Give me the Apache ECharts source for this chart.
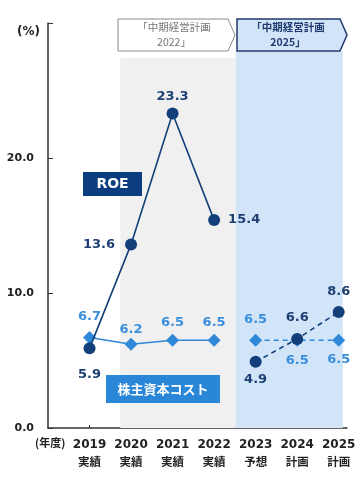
<!DOCTYPE html>
<html><head><meta charset="utf-8">
<script src="https://cdn.jsdelivr.net/npm/echarts@6/dist/echarts.min.js"></script>
<style>html,body{margin:0;padding:0;background:#fff}#c{width:363px;height:484px}</style>
</head><body><div id="c"></div>
<script>
const years = ['2019','2020','2021','2022','2023','2024','2025'];
const status = ['実績','実績','実績','実績','予想','計画','計画'];
const roeActual = [5.9, 13.6, 23.3, 15.4, null, null, null];
const roePlan = [null, null, null, null, 4.9, 6.6, 8.6];
const costActual = [6.7, 6.2, 6.5, 6.5, null, null, null];
const costPlan = [null, null, null, null, 6.5, 6.5, 6.5];
const yTickValues = [0, 10, 20, 30];
const yLabelValues = [0, 10, 20];

const roeLabelPos = ['bottom','left','top','right','bottom','top','top'];
const roeLabelDist = [14, 10, 4, 8, 5, 9, 8];
const costLabelPos = ['top','top','top','top','top','bottom','bottom'];
const costLabelDist = [8, 2, 5, 5, 8, 7, 6];

const NAVY = '#123f7a';
const LBLUE = '#2f88d8';
const FONT = '"DejaVu Sans","Noto Sans CJK JP",sans-serif';
const CJK = '"Noto Sans CJK JP","DejaVu Sans",sans-serif';

function mk(arr, pos, dist) {
  const out = [];
  arr.forEach((v, i) => {
    if (v == null) return;
    out.push({ value: [i, v], label: { position: pos[i], distance: dist[i] } });
  });
  return out;
}

const roeLabel = { show: true, fontFamily: FONT, fontSize: 13, fontWeight: 'bold', color: '#1d3f72', formatter: p => p.value[1].toFixed(1) };
const costLabel = { show: true, fontFamily: FONT, fontSize: 13, fontWeight: 'bold', color: '#3a8fdc', formatter: p => p.value[1].toFixed(1) };

const chart = echarts.init(document.getElementById('c'));
chart.setOption({
  animation: false,
  grid: { left: 48, right: 16, top: 23, bottom: 56 },
  xAxis: {
    type: 'value', min: -1, max: 6.2, interval: 1,
    axisLine: { show: true, onZero: false, lineStyle: { color: '#333', width: 1.5 } },
    axisTick: { show: true, inside: true, length: 3, lineStyle: { color: '#333' }, customValues: [0,1,2,3,4,5,6] },
    splitLine: { show: false },
    axisLabel: {
      customValues: [0,1,2,3,4,5,6],
      margin: 8,
      formatter: v => '{y|' + years[v] + '}\n{s|' + status[v] + '}',
      rich: {
        y: { fontFamily: FONT, fontSize: 12, fontWeight: 'bold', color: '#222', lineHeight: 17 },
        s: { fontFamily: CJK, fontSize: 11.5, fontWeight: 'bold', color: '#222', lineHeight: 17 }
      }
    }
  },
  yAxis: {
    type: 'value', min: 0, max: 30, interval: 10,
    axisLine: { show: true, onZero: false, lineStyle: { color: '#333', width: 1.5 } },
    axisTick: { show: true, inside: true, length: 5, lineStyle: { color: '#333' }, customValues: yTickValues },
    splitLine: { show: false },
    axisLabel: {
      customValues: yLabelValues,
      margin: 14,
      formatter: v => v.toFixed(1),
      fontFamily: FONT, fontSize: 11, fontWeight: 'bold', color: '#222'
    }
  },
  series: [
    {
      type: 'line', name: 'bg', data: [], silent: true,
      markArea: {
        silent: true,
        data: [
          [{ xAxis: 0.74, yAxis: 0, itemStyle: { color: '#f0f0f0' } }, { xAxis: 3.52, yAxis: 27.4 }],
          [{ xAxis: 3.52, yAxis: 0, itemStyle: { color: '#d2e5f8' } }, { xAxis: 6.1, yAxis: 27.9 }]
        ]
      }
    },
    {
      type: 'line', name: 'cost', data: mk(costActual, costLabelPos, costLabelDist),
      symbol: 'diamond', symbolSize: 13, lineStyle: { color: LBLUE, width: 1.6 },
      itemStyle: { color: LBLUE }, label: costLabel, z: 3
    },
    {
      type: 'line', name: 'costPlan', data: mk(costPlan, costLabelPos, costLabelDist),
      symbol: 'diamond', symbolSize: 13, lineStyle: { color: LBLUE, width: 1.6, type: [5, 4] },
      itemStyle: { color: LBLUE }, label: costLabel, z: 3
    },
    {
      type: 'line', name: 'roe', data: mk(roeActual, roeLabelPos, roeLabelDist),
      symbol: 'circle', symbolSize: 12, lineStyle: { color: NAVY, width: 1.6 },
      itemStyle: { color: NAVY }, label: roeLabel, z: 4
    },
    {
      type: 'line', name: 'roePlan', data: mk(roePlan, roeLabelPos, roeLabelDist),
      symbol: 'circle', symbolSize: 12, lineStyle: { color: NAVY, width: 1.6, type: [5, 4] },
      itemStyle: { color: NAVY }, label: roeLabel, z: 4
    }
  ],
  graphic: [
    { type: 'text', z: 100, x: 17, y: 32, style: { text: '(%)', font: 'bold 12px ' + FONT, fill: '#222', verticalAlign: 'middle' } },
    { type: 'text', z: 100, x: 35, y: 443, style: { text: '(年度)', font: 'bold 11px ' + CJK, fill: '#222', verticalAlign: 'middle' } },
    { type: 'polygon', z: 100, shape: { points: [[118,19],[228,19],[235,35],[228,51],[118,51]] }, style: { fill: '#fff', stroke: '#8a8a8a', lineWidth: 1 } },
    { type: 'text', z: 101, x: 174, y: 35, style: { text: '「中期経営計画\n2022」', font: '10.5px ' + CJK, fill: '#777', align: 'center', verticalAlign: 'middle', lineHeight: 15 } },
    { type: 'polygon', z: 100, shape: { points: [[237,19],[340,19],[347,35],[340,51],[237,51]] }, style: { fill: '#d2e5f8', stroke: '#1f3a6e', lineWidth: 1.5 } },
    { type: 'text', z: 101, x: 288, y: 35, style: { text: '「中期経営計画\n2025」', font: 'bold 10.5px ' + CJK, fill: '#1f3a6e', align: 'center', verticalAlign: 'middle', lineHeight: 15 } },
    { type: 'rect', z: 100, shape: { x: 83, y: 172, width: 59, height: 24 }, style: { fill: '#0c3d7e' } },
    { type: 'text', z: 101, x: 112.5, y: 184, style: { text: 'ROE', font: 'bold 14px ' + FONT, fill: '#fff', align: 'center', verticalAlign: 'middle' } },
    { type: 'rect', z: 100, shape: { x: 106, y: 375, width: 114, height: 28 }, style: { fill: '#2a87d8' } },
    { type: 'text', z: 101, x: 163, y: 389, style: { text: '株主資本コスト', font: 'bold 13px ' + CJK, fill: '#fff', align: 'center', verticalAlign: 'middle' } }
  ]
});
</script>
</body></html>
